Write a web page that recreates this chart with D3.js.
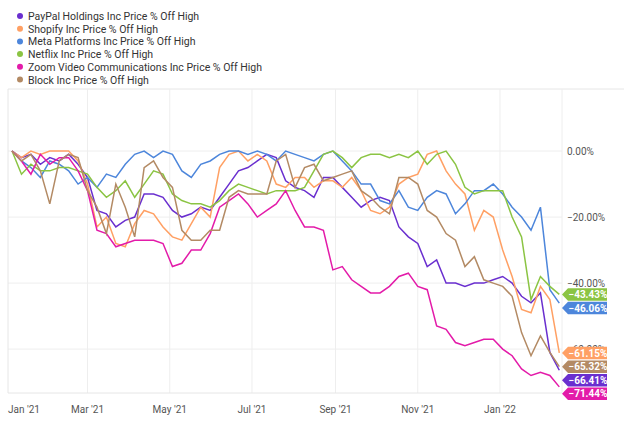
<!DOCTYPE html>
<html>
<head>
<meta charset="utf-8">
<script src="https://cdn.jsdelivr.net/npm/d3@7"></script>
<style>
  body { margin: 0; background: #fff; }
  svg { font-family: Roboto, sans-serif; }
</style>
</head>
<body>
<svg id="chart" width="624" height="421"></svg>
<script>
// weekly closes, Jan 4 2021 .. Feb 14 2022
const startDate = new Date(2021, 0, 4);
const dates = d3.range(59).map(i => d3.timeDay.offset(startDate, i * 7));

const names = [
  'PayPal Holdings Inc Price % Off High',
  'Shopify Inc Price % Off High',
  'Meta Platforms Inc Price % Off High',
  'Netflix Inc Price % Off High',
  'Zoom Video Communications Inc Price % Off High',
  'Block Inc Price % Off High'
];
const colors = ['#6a2fcf', '#ffa064', '#4d86db', '#8bc443', '#e31ba9', '#b38a64'];
const lastLabels = [-66.41, -61.15, -46.06, -43.43, -71.44, -65.32];

const paypal = [0,-2,-1,-4,-2,-3,-1,-4,-8,-18,-19,-23,-21,-20,-13,-13,-14,-18,-20,-19,-17,-18,-14,-10,-6,-5,-3,-1,-2,-9,-11,-12,-14,-8,-8,-11,-14,-17,-15,-14,-15,-23,-26,-28,-35,-33,-40,-40,-41,-40,-40,-39,-38,-40,-44,-46,-43,-61,-66.41];
const shopify = [0,-2,0,-1,0,0,0,-3,-10,-23,-20,-28,-29,-22,-18,-19,-23,-26,-27,-22,-17,-20,-5,-1,0,-3,-1,-3,-10,-11,-8,-8,-11,-9,-9,-11,-8,-12,-18,-19,-17,-10,-8,-7,-1,0,-6,-10,-13,-24,-18,-20,-30,-38,-48,-49,-41,-45,-61.15];
const meta = [0,-3,-5,-8,-3,-4,-6,-10,-8,-11,-7,-8,-4,-1,0,-2,0,-1,-6,-8,-4,-3,-1,0,0,-1,0,-1,-3,0,-1,-2,-3,-1,0,-3,-6,-10,-10,-15,-16,-12,-17,-18,-14,-12,-13,-19,-16,-12,-12,-10,-13,-17,-20,-24,-17,-42,-46.06];
const netflix = [0,-7,-4,-6,-6,-5,-5,-6,-7,-11,-14,-12,-9,-14,-10,-6,-7,-13,-15,-16,-16,-17,-15,-12,-10,-11,-12,-13,-12,-12,-12,-11,-6,-1,0,-2,-5,-2,-1,-1,-2,-1,-2,0,-4,-1,0,-4,-11,-13,-12,-12,-12,-20,-26,-45,-38,-41,-43.43];
const zoomVideo = [0,-3,-7,-1,-4,-2,-2,-6,-12,-24,-25,-29,-28,-27,-27,-27,-28,-35,-34,-30,-30,-25,-17,-15,-13,-16,-20,-18,-16,-12,-18,-23,-23,-24,-36,-35,-39,-41,-43,-43,-41,-38,-37,-41,-42,-53,-54,-58,-59,-58,-57,-57,-60,-62,-66,-68,-67,-68,-71.44];
const block = [0,-3,-1,-6,-16,-3,-1,-2,-12,-17,-25,-10,-17,-26,-5,-3,-8,-11,-24,-27,-27,-24,-24,-14,-12,-13,-13,-13,-3,-1,-11,-5,-4,-9,-8,-7,-6,-12,-14,-17,-19,-8,-8,-10,-18,-20,-25,-27,-35,-32,-39,-40,-41,-44,-55,-62,-56,-61,-65.32];

const seriesValues = [paypal, shopify, meta, netflix, zoomVideo, block];
const yTicks = [0, -20, -40, -60];

const svg = d3.select('#chart');
const plotLeft = 8, plotRight = 562, plotTop = 89, plotBottom = 393;

const x = d3.scaleTime()
  .domain([new Date(2021, 0, 1), new Date(2022, 1, 16)])
  .range([plotLeft, plotRight]);
const y = d3.scaleLinear().domain([18.8, -73.3]).range([plotTop, plotBottom]);

// legend
const legend = svg.append('g');
names.forEach((n, i) => {
  const ly = 16 + i * 12.7;
  legend.append('circle').attr('cx', 20).attr('cy', ly).attr('r', 3).attr('fill', colors[i]);
  legend.append('text').attr('x', 28).attr('y', ly + 4)
    .attr('font-size', 10.5).attr('fill', '#333').text(n);
});
svg.append('line').attr('x1', plotLeft).attr('x2', 624).attr('y1', plotTop).attr('y2', plotTop)
  .attr('stroke', '#e6e6e6');

// grid
const monthTicks = d3.timeMonth.every(2).range(new Date(2021, 0, 1), new Date(2022, 1, 1));
svg.append('g').selectAll('line').data(monthTicks.slice(1)).join('line')
  .attr('x1', d => x(d)).attr('x2', d => x(d)).attr('y1', plotTop).attr('y2', plotBottom)
  .attr('stroke', '#eeeeee');
svg.append('g').selectAll('line').data(yTicks).join('line')
  .attr('x1', plotLeft).attr('x2', plotRight).attr('y1', d => y(d)).attr('y2', d => y(d))
  .attr('stroke', '#eeeeee');
svg.append('line').attr('x1', plotLeft).attr('x2', plotLeft).attr('y1', plotTop).attr('y2', plotBottom).attr('stroke', '#e6e6e6');
svg.append('line').attr('x1', plotRight).attr('x2', plotRight).attr('y1', plotTop).attr('y2', plotBottom).attr('stroke', '#eeeeee');
svg.append('line').attr('x1', plotLeft).attr('x2', plotRight).attr('y1', plotBottom).attr('y2', plotBottom).attr('stroke', '#e6e6e6');

// axes labels
svg.append('g').selectAll('text').data(monthTicks).join('text')
  .attr('x', (d, i) => i === 0 ? 24 : x(d)).attr('y', 413)
  .attr('text-anchor', 'middle').attr('font-size', 10).attr('fill', '#555')
  .text(d => d3.timeFormat("%b '%y")(d));
svg.append('g').selectAll('text').data(yTicks).join('text')
  .attr('x', 567).attr('y', d => y(d) + 3.5)
  .attr('font-size', 10).attr('fill', '#555')
  .text(d => d3.format('.2f')(d) + '%');

// lines
const line = d3.line().x((d, i) => x(dates[i])).y(d => y(d));
seriesValues.forEach((vals, i) => {
  svg.append('path').datum(vals).attr('d', line)
    .attr('fill', 'none').attr('stroke', colors[i]).attr('stroke-width', 1.5);
});

// end tags with simple collision avoidance
const tags = lastLabels.map((v, i) => ({ v, i, py: y(v) })).sort((a, b) => a.py - b.py);
for (let k = 1; k < tags.length; k++) {
  if (tags[k].py < tags[k - 1].py + 13.5) tags[k].py = tags[k - 1].py + 13.5;
}
const tg = svg.append('g');
tags.forEach(t => {
  const x0 = plotRight, yy = t.py, h = 12.5;
  tg.append('path')
    .attr('d', `M${x0},${yy} L${x0 + 6},${yy - h / 2} L${x0 + 45},${yy - h / 2} L${x0 + 45},${yy + h / 2} L${x0 + 6},${yy + h / 2} Z`)
    .attr('fill', colors[t.i]);
  tg.append('text').attr('x', x0 + 26).attr('y', yy + 3.8).attr('text-anchor', 'middle')
    .attr('font-size', 10).attr('font-weight', 'bold').attr('fill', '#fff')
    .text(d3.format('.2f')(t.v) + '%');
});
</script>
</body>
</html>
